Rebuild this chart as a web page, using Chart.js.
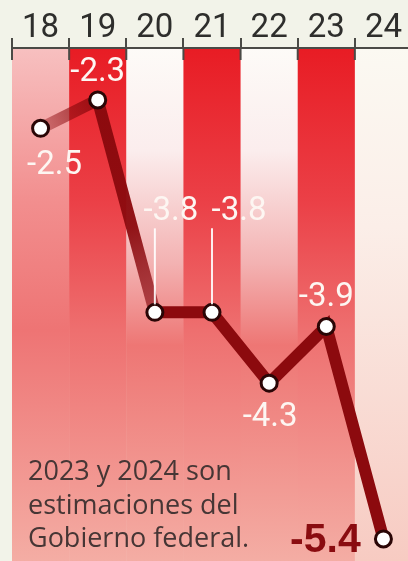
<!DOCTYPE html>
<html>
<head>
<meta charset="utf-8">
<script src="https://cdn.jsdelivr.net/npm/chart.js@4"></script>
<style>
  html, body { margin: 0; padding: 0; background: #f2f3e9; overflow: hidden; }
  .wrap { width: 412px; height: 561px; position: relative; }
</style>
</head>
<body>
<div class="wrap"><canvas class="js-deficit"></canvas></div>
<script>
// Déficit fiscal, % del PIB
const years = ['18', '19', '20', '21', '22', '23', '24'];
const deficit = [-2.5, -2.3, -3.8, -3.8, -4.3, -3.9, -5.4];
const noteLines = ['2023 y 2024 son', 'estimaciones del', 'Gobierno federal.'];

// label placement relative to each point (style only)
const labelOffsets = [[14, 37], [0, -27], [16, -101], [27, -101], [1, 35], [0, -29], [-58, 2]];
const leaderLines = [2, 3];

const colRed = [[0, '#e81c24'], [0.3, '#eb4047'], [0.55, '#ee6f6f'], [1, '#f4ada4']];
const colWhite = [[0, '#fdfbf8'], [0.2, '#fbeded'], [0.42, '#f3b2b2'], [0.58, '#ee7674'], [1, '#f4ada4']];
const colFirst = [[0, '#f7c0c0'], [0.3, '#f28e8e'], [0.55, '#ee7474'], [1, '#f4ada4']];
const colLast = [[0, '#fbf9f2'], [0.35, '#fbeee8'], [1, '#f7cbc2']];
const columnStyles = [colFirst, colRed, colWhite, colRed, colWhite, colRed, colLast];

const labelFont = 'Roboto, "Liberation Sans", sans-serif';

const backdrop = {
  id: 'backdrop',
  beforeDraw(chart) {
    const ctx = chart.ctx;
    const a = chart.chartArea;
    const x = chart.scales.x;
    const w = x.width / years.length;
    ctx.save();
    ctx.fillStyle = '#f2f3e9';
    ctx.fillRect(0, 0, chart.width, chart.height);
    years.forEach((yr, i) => {
      const cx = x.getPixelForValue(i);
      const g = ctx.createLinearGradient(0, a.top, 0, a.bottom);
      for (const s of columnStyles[i]) g.addColorStop(s[0], s[1]);
      ctx.fillStyle = g;
      ctx.fillRect(cx - w / 2, a.top, w + 0.5, a.bottom - a.top);
    });
    ctx.restore();
  },
  afterDraw(chart) {
    // small tick stubs below the axis line
    const ctx = chart.ctx;
    const a = chart.chartArea;
    const x = chart.scales.x;
    const w = x.width / years.length;
    ctx.save();
    ctx.strokeStyle = '#4a4a46';
    ctx.lineWidth = 2;
    for (let i = 0; i <= years.length; i++) {
      const bx = x.left + i * w;
      ctx.beginPath();
      ctx.moveTo(bx, a.top);
      ctx.lineTo(bx, a.top + 12);
      ctx.stroke();
    }
    ctx.restore();
  }
};

const valueLabels = {
  id: 'valueLabels',
  afterDatasetsDraw(chart) {
    const ctx = chart.ctx;
    const pts = chart.getDatasetMeta(0).data;
    ctx.save();
    ctx.textAlign = 'center';
    ctx.textBaseline = 'middle';
    deficit.forEach((v, i) => {
      const p = pts[i];
      const lx = p.x + labelOffsets[i][0];
      const ly = p.y + labelOffsets[i][1];
      if (leaderLines.includes(i)) {
        ctx.strokeStyle = 'rgba(255,255,255,0.9)';
        ctx.lineWidth = 2;
        ctx.beginPath();
        ctx.moveTo(p.x, ly + 17);
        ctx.lineTo(p.x, p.y - 8);
        ctx.stroke();
      }
      if (i === deficit.length - 1) {
        ctx.font = 'bold 41px "Liberation Sans", Arial, sans-serif';
        ctx.fillStyle = '#8a0c10';
      } else {
        ctx.font = '33px ' + labelFont;
        ctx.fillStyle = '#fdf6f2';
      }
      ctx.fillText(v.toFixed(1), lx, ly);
    });
    // nota
    ctx.textAlign = 'left';
    ctx.textBaseline = 'alphabetic';
    ctx.font = '27px "Open Sans", sans-serif';
    ctx.fillStyle = '#463635';
    noteLines.forEach((t, k) => {
      ctx.fillText(t, 28, 480 + k * 33.5);
    });
    ctx.restore();
  }
};

const chartCtx = document.querySelector('.js-deficit').getContext('2d');
const deficitChart = new Chart(chartCtx, {
  type: 'line',
  data: {
    labels: years,
    datasets: [{
      data: deficit,
      borderColor: '#8c0a0e',
      borderWidth: 12,
      borderJoinStyle: 'miter',
      pointRadius: 8,
      pointHoverRadius: 8,
      pointBackgroundColor: '#ffffff',
      pointBorderColor: '#2a0606',
      pointBorderWidth: 3,
      tension: 0,
      clip: false,
      segment: {
        borderColor: function(c) {
          if (c.p0DataIndex > 1) return undefined;
          const g = c.chart.ctx.createLinearGradient(c.p0.x, c.p0.y, c.p1.x, c.p1.y);
          if (c.p0DataIndex === 0) {
            g.addColorStop(0, 'rgba(140,10,14,0.35)');
            g.addColorStop(1, 'rgba(140,10,14,0.85)');
          } else {
            g.addColorStop(0, 'rgba(140,10,14,1)');
            g.addColorStop(0.6, 'rgba(140,10,14,0.95)');
            g.addColorStop(1, 'rgba(150,30,36,0.7)');
          }
          return g;
        }
      }
    }]
  },
  options: {
    responsive: true,
    maintainAspectRatio: false,
    animation: false,
    layout: { autoPadding: false, padding: { left: 12, right: 0, top: 0, bottom: 0 } },
    plugins: { legend: { display: false }, tooltip: { enabled: false } },
    scales: {
      x: {
        position: 'top',
        offset: true,
        afterFit: function(s) { s.height = 48; },
        border: { display: true, color: '#4a4a46', width: 2 },
        grid: { offset: true, drawOnChartArea: false, tickLength: 10, color: '#4a4a46', lineWidth: 2 },
        ticks: { color: '#2e2e2c', padding: -11, font: { family: labelFont, size: 33, weight: '400' } }
      },
      y: {
        display: false,
        min: -5.556,
        max: -1.933
      }
    }
  },
  plugins: [backdrop, valueLabels]
});
</script>
</body>
</html>
